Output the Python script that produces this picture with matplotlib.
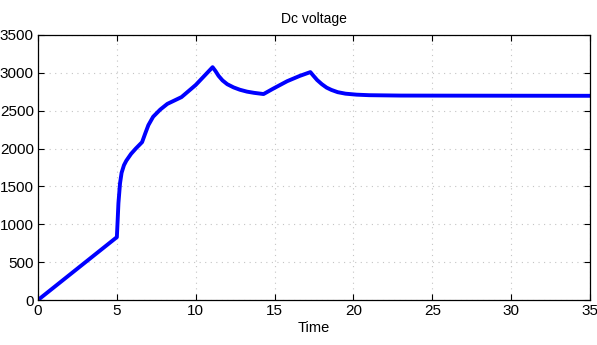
import matplotlib
matplotlib.use('Agg')
import matplotlib.pyplot as plt

plt.rcParams['font.family'] = ['Liberation Sans Narrow', 'Liberation Sans', 'DejaVu Sans']

# Dc voltage trace
time = [0, 5.0, 5.05, 5.1, 5.2, 5.3, 5.45, 5.6, 5.9, 6.2, 6.6,
        6.8, 7.0, 7.3, 7.75, 8.2, 8.8, 9.1, 10.0, 11.07,
        11.25, 11.45, 11.7, 12.0, 12.4, 12.8, 13.25, 13.7, 14.3,
        14.9, 15.8, 16.6, 17.27,
        17.45, 17.7, 18.0, 18.3, 18.6, 19.0, 19.5, 20.2, 21.0, 23.0, 26.0, 30.0, 35.0]
voltage = [0, 830, 1050, 1280, 1540, 1680, 1780, 1840, 1930, 2000, 2085,
           2200, 2310, 2420, 2515, 2590, 2650, 2680, 2840, 3075,
           3025, 2960, 2900, 2850, 2808, 2777, 2752, 2736, 2720,
           2790, 2890, 2960, 3010,
           2965, 2905, 2850, 2805, 2775, 2745, 2725, 2712, 2705, 2700, 2699, 2698, 2697]

xticks = [0, 5, 10, 15, 20, 25, 30, 35]
yticks = [0, 500, 1000, 1500, 2000, 2500, 3000, 3500]

fig = plt.figure(figsize=(5.97, 3.45), dpi=100)
ax = fig.add_axes([38/597, 45/345, 552/597, 265/345])

ax.plot(time, voltage, color='#0000ff', lw=2.8, solid_joinstyle='round')

ax.set_xlim(0, 35)
ax.set_ylim(0, 3500)
ax.set_xticks(xticks)
ax.set_yticks(yticks)
ax.tick_params(direction='in', top=True, right=True, labelsize=11, length=4, width=0.8, pad=3)
ax.grid(True, linestyle=(0, (1, 4)), color='#c4c4c4', lw=0.8)
for s in ax.spines.values():
    s.set_linewidth(0.9)

ax.set_title('Dc voltage', fontsize=10, pad=9)
ax.set_xlabel('Time', fontsize=10.5, labelpad=2)

plt.savefig('out.png', dpi=100)
